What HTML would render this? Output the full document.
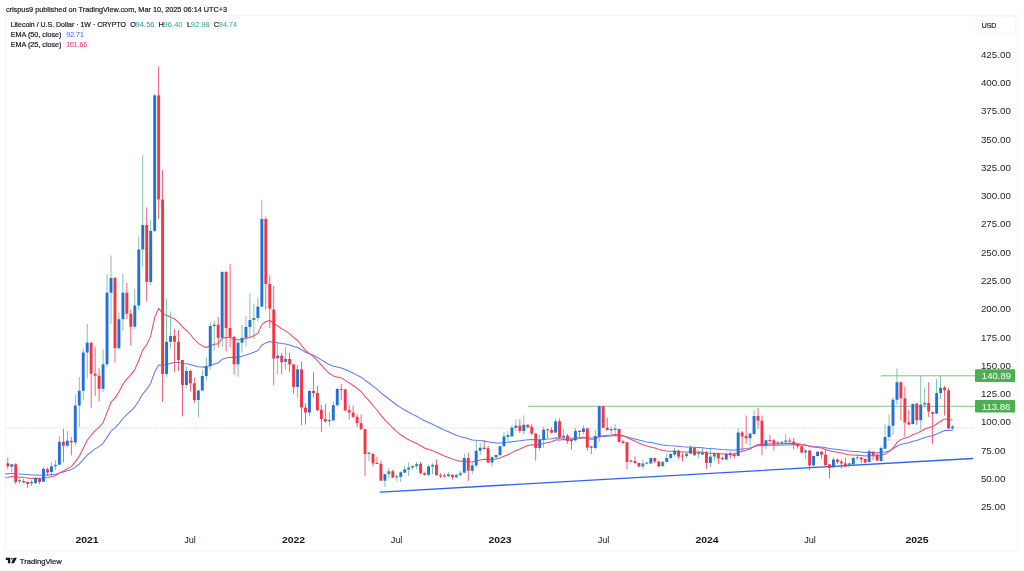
<!DOCTYPE html>
<html lang="en"><head><meta charset="utf-8"><title>Litecoin / U.S. Dollar chart</title>
<style>
html,body{margin:0;padding:0;background:#fff;}
body{width:1024px;height:571px;overflow:hidden;}
svg{display:block;}
text{font-family:"Liberation Sans",sans-serif;}
.k{fill:#131722;stroke:#131722;stroke-width:0.2px;}
tspan[fill]{stroke:none;}
</style></head><body>
<svg width="1024" height="571" viewBox="0 0 1024 571">
<rect x="0" y="0" width="1024" height="571" fill="#ffffff"/>
<g fill="none" stroke="#f4f4f6" stroke-width="1"><path d="M5.2 551.4V15.3H1018"/><path d="M5.2 551.4H1016" stroke="#f7f7f8"/><path d="M1018.2 15.3V551.4" stroke="#fafafb" stroke-width="2"/></g>
<line x1="6" y1="428" x2="974" y2="428" stroke="#c2caf8" stroke-width="0.9" stroke-dasharray="1 0.9" opacity="0.85"/>
<line x1="528.2" y1="406.3" x2="975" y2="406.3" stroke="#6fbf73" stroke-width="0.9"/>
<line x1="880.9" y1="375.8" x2="975" y2="375.8" stroke="#6fbf73" stroke-width="0.9"/>
<polyline points="5.2,474.0 7.8,473.7 11.8,473.3 15.7,473.7 19.7,473.9 23.7,474.3 27.6,474.6 31.6,474.9 35.6,475.0 39.6,475.3 43.5,475.1 47.5,475.0 51.5,474.6 55.4,474.2 59.4,473.0 63.4,471.9 67.3,470.7 71.3,469.6 75.3,467.1 79.2,464.1 83.2,459.7 87.2,455.1 91.2,451.9 95.1,448.9 99.1,446.6 103.1,443.3 107.0,437.4 111.0,431.2 115.0,427.9 118.9,423.7 122.9,418.5 126.9,414.4 130.9,411.0 134.8,406.8 138.8,400.7 142.8,393.8 146.7,389.4 150.7,383.2 154.7,371.9 158.6,365.1 162.6,365.5 166.6,364.5 170.5,363.4 174.5,362.6 178.5,362.5 182.5,363.4 186.4,363.7 190.4,364.4 194.4,365.8 198.3,366.8 202.3,367.1 206.3,367.1 210.2,365.5 214.2,363.9 218.2,362.9 222.1,359.3 226.1,358.1 230.1,357.3 234.1,357.5 238.0,356.9 242.0,356.2 246.0,355.1 249.9,353.7 253.9,352.3 257.9,350.5 261.8,345.3 265.8,342.9 269.8,341.6 273.7,342.2 277.7,342.8 281.7,343.5 285.7,344.1 289.6,344.9 293.6,346.6 297.6,347.5 301.5,349.8 305.5,352.3 309.5,353.8 313.4,355.3 317.4,357.5 321.4,359.9 325.4,362.3 329.3,364.6 333.3,366.2 337.3,367.1 341.2,368.0 345.2,369.6 349.2,371.3 353.1,373.1 357.1,375.1 361.1,377.2 365.0,380.2 369.0,383.0 373.0,386.2 377.0,389.2 380.9,392.8 384.9,396.0 388.9,399.0 392.8,402.0 396.8,405.0 400.8,407.6 404.7,410.0 408.7,412.3 412.7,414.4 416.6,416.3 420.6,418.6 424.6,420.8 428.6,422.5 432.5,424.2 436.5,426.2 440.5,428.2 444.4,430.1 448.4,431.8 452.4,433.6 456.3,435.2 460.3,436.7 464.3,437.5 468.3,438.8 472.2,439.9 476.2,440.3 480.2,440.6 484.1,440.9 488.1,441.8 492.1,442.4 496.0,442.9 500.0,443.0 504.0,442.7 507.9,442.4 511.9,441.8 515.9,441.2 519.9,440.8 523.8,440.2 527.8,439.7 531.8,439.4 535.7,439.8 539.7,439.8 543.7,439.4 547.6,439.0 551.6,438.8 555.6,438.1 559.5,438.1 563.5,438.0 567.5,438.1 571.5,438.2 575.4,437.9 579.4,437.7 583.4,437.3 587.3,437.7 591.3,438.1 595.3,438.0 599.2,436.8 603.2,436.4 607.2,436.2 611.1,435.9 615.1,435.6 619.1,435.9 623.1,436.1 627.0,437.1 631.0,438.1 635.0,439.0 638.9,440.1 642.9,441.0 646.9,441.9 650.8,442.5 654.8,443.3 658.8,444.2 662.8,444.9 666.7,445.4 670.7,445.7 674.7,445.9 678.6,446.3 682.6,446.7 686.6,447.0 690.5,447.0 694.5,447.3 698.5,447.5 702.4,447.7 706.4,448.3 710.4,448.7 714.4,448.8 718.3,449.2 722.3,449.6 726.3,449.8 730.2,450.0 734.2,450.2 738.2,449.5 742.1,449.0 746.1,448.6 750.1,448.0 754.0,446.7 758.0,445.7 762.0,445.7 766.0,445.5 769.9,445.3 773.9,445.3 777.9,445.2 781.8,445.0 785.8,444.9 789.8,444.7 793.7,444.7 797.7,444.8 801.7,445.1 805.6,445.3 809.6,446.1 813.6,446.5 817.6,446.7 821.5,447.0 825.5,447.7 829.5,448.5 833.4,448.9 837.4,449.4 841.4,450.0 845.3,450.6 849.3,451.1 853.3,451.4 857.3,451.6 861.2,451.9 865.2,452.4 869.2,452.3 873.1,452.4 877.1,452.8 881.1,452.6 885.0,452.0 889.0,450.9 893.0,448.9 896.9,446.3 900.9,444.4 904.9,443.6 908.9,442.8 912.8,441.3 916.8,440.5 920.8,439.1 924.7,437.6 928.7,436.6 932.7,435.7 936.6,434.1 940.6,432.2 944.6,430.6 948.5,430.5 952.5,430.3" fill="none" stroke="#5b7cf7" stroke-width="1.05" stroke-linejoin="round"/>
<polyline points="5.2,477.8 7.8,477.5 11.8,476.5 15.7,476.9 19.7,477.1 23.7,477.6 27.6,478.0 31.6,478.4 35.6,478.3 39.6,478.6 43.5,477.9 47.5,477.4 51.5,476.6 55.4,475.7 59.4,473.1 63.4,471.0 67.3,468.6 71.3,466.6 75.3,461.9 79.2,456.4 83.2,448.5 87.2,440.3 91.2,435.2 95.1,430.6 99.1,427.4 103.1,422.5 107.0,412.6 111.0,402.2 115.0,398.1 118.9,392.0 122.9,384.3 126.9,378.9 130.9,374.9 134.8,369.6 138.8,360.3 142.8,349.9 146.7,344.7 150.7,335.9 154.7,317.4 158.6,308.4 162.6,313.4 166.6,315.6 170.5,317.1 174.5,319.0 178.5,322.2 182.5,327.0 186.4,330.4 190.4,334.5 194.4,339.5 198.3,343.4 202.3,345.9 206.3,347.5 210.2,345.8 214.2,344.2 218.2,343.7 222.1,338.2 226.1,337.4 230.1,337.4 234.1,339.4 238.0,339.7 242.0,339.6 246.0,338.6 249.9,337.2 253.9,335.7 257.9,333.4 261.8,324.6 265.8,321.5 269.8,320.5 273.7,323.5 277.7,325.9 281.7,328.7 285.7,331.1 289.6,333.6 293.6,337.7 297.6,340.2 301.5,345.3 305.5,350.5 309.5,353.6 313.4,356.7 317.4,360.8 321.4,365.2 325.4,369.6 329.3,373.5 333.3,375.9 337.3,376.9 341.2,377.9 345.2,380.4 349.2,382.9 353.1,385.5 357.1,388.4 361.1,391.5 365.0,396.3 369.0,400.7 373.0,405.5 377.0,410.0 380.9,415.4 384.9,419.9 388.9,423.9 392.8,428.0 396.8,431.7 400.8,434.8 404.7,437.5 408.7,439.8 412.7,441.8 416.6,443.5 420.6,445.8 424.6,448.0 428.6,449.4 432.5,450.6 436.5,452.5 440.5,454.3 444.4,456.0 448.4,457.4 452.4,459.0 456.3,460.2 460.3,461.2 464.3,460.9 468.3,461.7 472.2,462.0 476.2,461.1 480.2,460.1 484.1,459.2 488.1,459.5 492.1,459.3 496.0,459.0 500.0,458.0 504.0,456.3 507.9,454.7 511.9,452.6 515.9,450.5 519.9,449.0 523.8,447.2 527.8,445.6 531.8,444.7 535.7,445.0 539.7,444.6 543.7,443.4 547.6,442.4 551.6,441.7 555.6,440.1 559.5,439.9 563.5,439.6 567.5,439.7 571.5,439.8 575.4,439.1 579.4,438.5 583.4,437.8 587.3,438.5 591.3,439.2 595.3,439.0 599.2,436.5 603.2,435.8 607.2,435.3 611.1,434.9 615.1,434.4 619.1,435.0 623.1,435.6 627.0,437.6 631.0,439.4 635.0,441.2 638.9,443.1 642.9,444.7 646.9,446.1 650.8,447.0 654.8,448.1 658.8,449.5 662.8,450.5 666.7,451.0 670.7,451.3 674.7,451.2 678.6,451.6 682.6,452.0 686.6,452.1 690.5,451.8 694.5,452.0 698.5,452.1 702.4,452.1 706.4,452.9 710.4,453.2 714.4,453.2 718.3,453.6 722.3,454.0 726.3,454.0 730.2,454.1 734.2,454.3 738.2,452.6 742.1,451.3 746.1,450.3 750.1,449.1 754.0,446.5 758.0,444.5 762.0,444.6 766.0,444.3 769.9,444.0 773.9,444.0 777.9,443.9 781.8,443.7 785.8,443.5 789.8,443.3 793.7,443.5 797.7,443.7 801.7,444.4 805.6,444.8 809.6,446.4 813.6,447.1 817.6,447.5 821.5,448.0 825.5,449.4 829.5,450.8 833.4,451.5 837.4,452.3 841.4,453.1 845.3,454.1 849.3,454.9 853.3,455.1 857.3,455.3 861.2,455.6 865.2,456.1 869.2,455.7 873.1,455.7 877.1,456.1 881.1,455.5 885.0,454.1 889.0,451.9 893.0,447.9 896.9,442.8 900.9,439.4 904.9,438.1 908.9,437.1 912.8,434.5 916.8,433.4 920.8,431.2 924.7,429.0 928.7,427.7 932.7,426.6 936.6,424.0 940.6,421.2 944.6,418.9 948.5,419.6 952.5,420.1" fill="none" stroke="#f0496b" stroke-width="1.05" stroke-linejoin="round"/>
<line x1="380.4" y1="492.1" x2="972.5" y2="458.5" stroke="#2f62f0" stroke-width="1.35" stroke-linecap="round"/>
<g>
<rect x="7.40" y="457.5" width="0.8" height="11.7" fill="#f23f52"/>
<rect x="6.35" y="463.3" width="2.9" height="3.0" fill="#f23645"/>
<rect x="11.41" y="464.3" width="0.72" height="7.7" fill="#55ad97"/>
<rect x="10.32" y="464.3" width="2.9" height="2.4" fill="#1f72d8"/>
<rect x="15.34" y="463.3" width="0.8" height="20.7" fill="#f23f52"/>
<rect x="14.29" y="464.3" width="2.9" height="17.7" fill="#f23645"/>
<rect x="19.35" y="478.0" width="0.72" height="6.0" fill="#55ad97"/>
<rect x="18.26" y="480.0" width="2.9" height="1.4" fill="#2f8fb8"/>
<rect x="23.28" y="479.0" width="0.8" height="4.0" fill="#f23f52"/>
<rect x="22.23" y="481.0" width="2.9" height="1.4" fill="#f23645"/>
<rect x="27.25" y="481.5" width="0.8" height="6.3" fill="#f23f52"/>
<rect x="26.20" y="482.0" width="2.9" height="2.0" fill="#f23645"/>
<rect x="31.26" y="480.0" width="0.72" height="6.0" fill="#55ad97"/>
<rect x="30.17" y="482.0" width="2.9" height="1.5" fill="#2f8fb8"/>
<rect x="35.23" y="477.0" width="0.72" height="7.0" fill="#55ad97"/>
<rect x="34.14" y="478.0" width="2.9" height="5.0" fill="#1f72d8"/>
<rect x="39.16" y="477.5" width="0.8" height="6.5" fill="#f23f52"/>
<rect x="38.11" y="478.6" width="2.9" height="3.4" fill="#f23645"/>
<rect x="43.16" y="467.3" width="0.72" height="14.7" fill="#55ad97"/>
<rect x="42.07" y="468.8" width="2.9" height="12.8" fill="#1f72d8"/>
<rect x="47.09" y="467.8" width="0.8" height="8.2" fill="#f23f52"/>
<rect x="46.04" y="469.2" width="2.9" height="3.3" fill="#f23645"/>
<rect x="51.10" y="462.4" width="0.72" height="14.6" fill="#55ad97"/>
<rect x="50.01" y="466.3" width="2.9" height="5.7" fill="#1f72d8"/>
<rect x="55.07" y="460.4" width="0.72" height="9.6" fill="#55ad97"/>
<rect x="53.98" y="464.7" width="2.9" height="1.6" fill="#2f8fb8"/>
<rect x="59.04" y="435.9" width="0.72" height="28.8" fill="#55ad97"/>
<rect x="57.95" y="441.8" width="2.9" height="22.9" fill="#1f72d8"/>
<rect x="62.97" y="429.0" width="0.8" height="33.4" fill="#f23f52"/>
<rect x="61.92" y="441.8" width="2.9" height="3.9" fill="#f23645"/>
<rect x="66.98" y="431.0" width="0.72" height="15.7" fill="#55ad97"/>
<rect x="65.89" y="440.8" width="2.9" height="4.9" fill="#1f72d8"/>
<rect x="70.91" y="436.9" width="0.8" height="18.6" fill="#f23f52"/>
<rect x="69.86" y="440.8" width="2.9" height="1.6" fill="#f23645"/>
<rect x="74.92" y="394.7" width="0.72" height="51.0" fill="#55ad97"/>
<rect x="73.83" y="405.5" width="2.9" height="36.9" fill="#1f72d8"/>
<rect x="78.89" y="377.0" width="0.72" height="50.0" fill="#55ad97"/>
<rect x="77.80" y="390.8" width="2.9" height="14.7" fill="#1f72d8"/>
<rect x="82.86" y="348.6" width="0.72" height="51.0" fill="#55ad97"/>
<rect x="81.77" y="352.5" width="2.9" height="38.3" fill="#1f72d8"/>
<rect x="86.83" y="324.0" width="0.72" height="54.5" fill="#55ad97"/>
<rect x="85.74" y="342.7" width="2.9" height="9.8" fill="#1f72d8"/>
<rect x="90.76" y="342.0" width="0.8" height="65.5" fill="#f23f52"/>
<rect x="89.71" y="342.7" width="2.9" height="31.0" fill="#f23645"/>
<rect x="94.73" y="346.7" width="0.8" height="49.0" fill="#f23f52"/>
<rect x="93.68" y="373.7" width="2.9" height="2.0" fill="#f23645"/>
<rect x="98.70" y="368.2" width="0.8" height="33.4" fill="#f23f52"/>
<rect x="97.65" y="375.7" width="2.9" height="13.1" fill="#f23645"/>
<rect x="102.71" y="349.6" width="0.72" height="42.2" fill="#55ad97"/>
<rect x="101.62" y="364.3" width="2.9" height="24.5" fill="#1f72d8"/>
<rect x="106.67" y="274.0" width="0.72" height="93.3" fill="#55ad97"/>
<rect x="105.58" y="292.7" width="2.9" height="71.6" fill="#1f72d8"/>
<rect x="110.64" y="255.4" width="0.72" height="68.6" fill="#55ad97"/>
<rect x="109.55" y="278.0" width="2.9" height="14.7" fill="#1f72d8"/>
<rect x="114.57" y="277.0" width="0.8" height="85.4" fill="#f23f52"/>
<rect x="113.52" y="278.0" width="2.9" height="70.2" fill="#f23645"/>
<rect x="118.58" y="312.4" width="0.72" height="37.2" fill="#55ad97"/>
<rect x="117.49" y="319.2" width="2.9" height="29.0" fill="#1f72d8"/>
<rect x="122.55" y="274.0" width="0.72" height="57.0" fill="#55ad97"/>
<rect x="121.46" y="292.7" width="2.9" height="26.5" fill="#1f72d8"/>
<rect x="126.48" y="283.0" width="0.8" height="36.2" fill="#f23f52"/>
<rect x="125.43" y="292.7" width="2.9" height="21.0" fill="#f23645"/>
<rect x="130.45" y="309.4" width="0.8" height="36.3" fill="#f23f52"/>
<rect x="129.40" y="313.7" width="2.9" height="13.0" fill="#f23645"/>
<rect x="134.46" y="288.8" width="0.72" height="40.2" fill="#55ad97"/>
<rect x="133.37" y="305.5" width="2.9" height="21.2" fill="#1f72d8"/>
<rect x="138.43" y="236.8" width="0.72" height="73.6" fill="#55ad97"/>
<rect x="137.34" y="249.5" width="2.9" height="56.0" fill="#1f72d8"/>
<rect x="142.40" y="155.2" width="0.72" height="111.8" fill="#55ad97"/>
<rect x="141.31" y="225.0" width="2.9" height="24.5" fill="#1f72d8"/>
<rect x="146.33" y="207.4" width="0.8" height="94.2" fill="#f23f52"/>
<rect x="145.28" y="225.0" width="2.9" height="56.9" fill="#f23645"/>
<rect x="150.34" y="220.0" width="0.72" height="64.8" fill="#55ad97"/>
<rect x="149.25" y="230.9" width="2.9" height="51.0" fill="#1f72d8"/>
<rect x="154.31" y="94.0" width="0.72" height="138.0" fill="#55ad97"/>
<rect x="153.22" y="95.4" width="2.9" height="135.5" fill="#1f72d8"/>
<rect x="158.24" y="66.5" width="0.8" height="152.5" fill="#f23f52"/>
<rect x="157.19" y="95.4" width="2.9" height="104.1" fill="#f23645"/>
<rect x="162.21" y="170.0" width="0.8" height="232.0" fill="#f23f52"/>
<rect x="161.16" y="199.5" width="2.9" height="174.4" fill="#f23645"/>
<rect x="166.22" y="298.6" width="0.72" height="78.4" fill="#55ad97"/>
<rect x="165.13" y="341.8" width="2.9" height="32.1" fill="#1f72d8"/>
<rect x="170.19" y="311.4" width="0.72" height="37.2" fill="#55ad97"/>
<rect x="169.10" y="335.9" width="2.9" height="5.9" fill="#1f72d8"/>
<rect x="174.11" y="329.0" width="0.8" height="43.0" fill="#f23f52"/>
<rect x="173.06" y="335.9" width="2.9" height="5.9" fill="#f23645"/>
<rect x="178.08" y="330.0" width="0.8" height="41.0" fill="#f23f52"/>
<rect x="177.03" y="341.8" width="2.9" height="18.2" fill="#f23645"/>
<rect x="182.05" y="360.0" width="0.8" height="56.4" fill="#f23f52"/>
<rect x="181.00" y="360.0" width="2.9" height="25.0" fill="#f23645"/>
<rect x="186.06" y="366.5" width="0.72" height="21.0" fill="#55ad97"/>
<rect x="184.97" y="371.0" width="2.9" height="14.0" fill="#1f72d8"/>
<rect x="189.99" y="370.0" width="0.8" height="21.5" fill="#f23f52"/>
<rect x="188.94" y="371.0" width="2.9" height="12.3" fill="#f23645"/>
<rect x="193.96" y="377.5" width="0.8" height="25.7" fill="#f23f52"/>
<rect x="192.91" y="383.3" width="2.9" height="16.7" fill="#f23645"/>
<rect x="197.97" y="390.0" width="0.72" height="27.2" fill="#55ad97"/>
<rect x="196.88" y="390.5" width="2.9" height="9.5" fill="#1f72d8"/>
<rect x="201.94" y="370.0" width="0.72" height="21.0" fill="#55ad97"/>
<rect x="200.85" y="376.0" width="2.9" height="14.5" fill="#1f72d8"/>
<rect x="205.91" y="357.5" width="0.72" height="23.1" fill="#55ad97"/>
<rect x="204.82" y="366.1" width="2.9" height="9.9" fill="#1f72d8"/>
<rect x="209.88" y="322.0" width="0.72" height="48.2" fill="#55ad97"/>
<rect x="208.79" y="326.0" width="2.9" height="40.1" fill="#1f72d8"/>
<rect x="213.85" y="321.0" width="0.72" height="29.6" fill="#55ad97"/>
<rect x="212.76" y="324.7" width="2.9" height="1.3" fill="#1f72d8"/>
<rect x="217.78" y="317.0" width="0.8" height="30.6" fill="#f23f52"/>
<rect x="216.73" y="324.7" width="2.9" height="13.1" fill="#f23645"/>
<rect x="221.79" y="271.0" width="0.72" height="75.7" fill="#55ad97"/>
<rect x="220.70" y="272.0" width="2.9" height="65.8" fill="#1f72d8"/>
<rect x="225.72" y="271.0" width="0.8" height="80.6" fill="#f23f52"/>
<rect x="224.67" y="272.0" width="2.9" height="56.0" fill="#f23645"/>
<rect x="229.69" y="264.0" width="0.8" height="83.6" fill="#f23f52"/>
<rect x="228.64" y="328.0" width="2.9" height="8.9" fill="#f23645"/>
<rect x="233.66" y="336.0" width="0.8" height="38.7" fill="#f23f52"/>
<rect x="232.61" y="336.9" width="2.9" height="27.4" fill="#f23645"/>
<rect x="237.67" y="339.8" width="0.72" height="36.9" fill="#55ad97"/>
<rect x="236.58" y="342.7" width="2.9" height="21.6" fill="#1f72d8"/>
<rect x="241.63" y="325.0" width="0.72" height="27.5" fill="#55ad97"/>
<rect x="240.54" y="337.8" width="2.9" height="4.9" fill="#1f72d8"/>
<rect x="245.60" y="316.0" width="0.72" height="30.7" fill="#55ad97"/>
<rect x="244.51" y="327.0" width="2.9" height="10.8" fill="#1f72d8"/>
<rect x="249.57" y="292.7" width="0.72" height="46.1" fill="#55ad97"/>
<rect x="248.48" y="320.0" width="2.9" height="7.0" fill="#1f72d8"/>
<rect x="253.54" y="303.5" width="0.72" height="35.5" fill="#55ad97"/>
<rect x="252.45" y="318.0" width="2.9" height="2.0" fill="#2f8fb8"/>
<rect x="257.51" y="297.7" width="0.72" height="23.7" fill="#55ad97"/>
<rect x="256.42" y="306.6" width="2.9" height="11.4" fill="#1f72d8"/>
<rect x="261.48" y="199.8" width="0.72" height="107.2" fill="#55ad97"/>
<rect x="260.39" y="219.0" width="2.9" height="87.6" fill="#1f72d8"/>
<rect x="265.41" y="216.5" width="0.8" height="93.1" fill="#f23f52"/>
<rect x="264.36" y="219.0" width="2.9" height="65.0" fill="#f23645"/>
<rect x="269.38" y="275.3" width="0.8" height="52.9" fill="#f23f52"/>
<rect x="268.33" y="284.0" width="2.9" height="24.6" fill="#f23645"/>
<rect x="273.35" y="286.0" width="0.8" height="99.3" fill="#f23f52"/>
<rect x="272.30" y="309.6" width="2.9" height="49.0" fill="#f23645"/>
<rect x="277.36" y="343.0" width="0.72" height="31.5" fill="#55ad97"/>
<rect x="276.27" y="355.7" width="2.9" height="2.5" fill="#1f72d8"/>
<rect x="281.29" y="352.7" width="0.8" height="21.8" fill="#f23f52"/>
<rect x="280.24" y="355.7" width="2.9" height="6.5" fill="#f23645"/>
<rect x="285.30" y="346.9" width="0.72" height="23.1" fill="#55ad97"/>
<rect x="284.21" y="359.0" width="2.9" height="2.8" fill="#1f72d8"/>
<rect x="289.23" y="352.7" width="0.8" height="19.3" fill="#f23f52"/>
<rect x="288.18" y="359.0" width="2.9" height="5.4" fill="#f23645"/>
<rect x="293.20" y="364.0" width="0.8" height="29.8" fill="#f23f52"/>
<rect x="292.15" y="364.4" width="2.9" height="22.6" fill="#f23645"/>
<rect x="297.21" y="364.8" width="0.72" height="33.7" fill="#55ad97"/>
<rect x="296.12" y="369.4" width="2.9" height="17.6" fill="#1f72d8"/>
<rect x="301.14" y="361.6" width="0.8" height="63.8" fill="#f23f52"/>
<rect x="300.09" y="369.4" width="2.9" height="38.1" fill="#f23645"/>
<rect x="305.11" y="403.5" width="0.8" height="21.0" fill="#f23f52"/>
<rect x="304.06" y="407.7" width="2.9" height="4.8" fill="#f23645"/>
<rect x="309.11" y="390.0" width="0.72" height="26.6" fill="#55ad97"/>
<rect x="308.02" y="391.0" width="2.9" height="21.5" fill="#1f72d8"/>
<rect x="313.04" y="372.3" width="0.8" height="25.2" fill="#f23f52"/>
<rect x="311.99" y="391.0" width="2.9" height="2.0" fill="#f23645"/>
<rect x="317.01" y="385.8" width="0.8" height="25.4" fill="#f23f52"/>
<rect x="315.96" y="393.0" width="2.9" height="17.2" fill="#f23645"/>
<rect x="320.98" y="405.0" width="0.8" height="26.6" fill="#f23f52"/>
<rect x="319.93" y="409.8" width="2.9" height="9.2" fill="#f23645"/>
<rect x="324.95" y="403.8" width="0.8" height="19.0" fill="#f23f52"/>
<rect x="323.90" y="419.0" width="2.9" height="2.5" fill="#f23645"/>
<rect x="328.96" y="412.2" width="0.72" height="14.0" fill="#55ad97"/>
<rect x="327.87" y="420.0" width="2.9" height="1.2" fill="#2f8fb8"/>
<rect x="332.93" y="401.6" width="0.72" height="19.7" fill="#55ad97"/>
<rect x="331.84" y="405.2" width="2.9" height="15.1" fill="#1f72d8"/>
<rect x="336.90" y="388.0" width="0.72" height="18.6" fill="#55ad97"/>
<rect x="335.81" y="389.0" width="2.9" height="16.2" fill="#1f72d8"/>
<rect x="340.83" y="383.8" width="0.8" height="16.2" fill="#f23f52"/>
<rect x="339.78" y="389.0" width="2.9" height="1.0" fill="#f23645"/>
<rect x="344.80" y="389.0" width="0.8" height="22.5" fill="#f23f52"/>
<rect x="343.75" y="389.4" width="2.9" height="21.1" fill="#f23645"/>
<rect x="348.77" y="404.6" width="0.8" height="14.7" fill="#f23f52"/>
<rect x="347.72" y="410.0" width="2.9" height="2.6" fill="#f23645"/>
<rect x="352.74" y="405.6" width="0.8" height="12.7" fill="#f23f52"/>
<rect x="351.69" y="412.5" width="2.9" height="4.3" fill="#f23645"/>
<rect x="356.71" y="414.4" width="0.8" height="12.8" fill="#f23f52"/>
<rect x="355.66" y="416.8" width="2.9" height="6.4" fill="#f23645"/>
<rect x="360.68" y="414.4" width="0.8" height="15.6" fill="#f23f52"/>
<rect x="359.63" y="423.2" width="2.9" height="5.9" fill="#f23645"/>
<rect x="364.65" y="429.0" width="0.8" height="47.2" fill="#f23f52"/>
<rect x="363.60" y="429.1" width="2.9" height="24.9" fill="#f23645"/>
<rect x="368.66" y="451.7" width="0.72" height="9.8" fill="#55ad97"/>
<rect x="367.57" y="452.6" width="2.9" height="1.4" fill="#2f8fb8"/>
<rect x="372.58" y="452.6" width="0.8" height="13.8" fill="#f23f52"/>
<rect x="371.53" y="454.0" width="2.9" height="9.4" fill="#f23645"/>
<rect x="376.55" y="456.6" width="0.8" height="7.4" fill="#f23f52"/>
<rect x="375.50" y="463.0" width="2.9" height="1.0" fill="#f23645"/>
<rect x="380.52" y="460.5" width="0.8" height="20.5" fill="#f23f52"/>
<rect x="379.47" y="463.8" width="2.9" height="16.9" fill="#f23645"/>
<rect x="384.53" y="474.0" width="0.72" height="13.0" fill="#55ad97"/>
<rect x="383.44" y="474.2" width="2.9" height="6.5" fill="#1f72d8"/>
<rect x="388.50" y="468.3" width="0.72" height="9.7" fill="#55ad97"/>
<rect x="387.41" y="471.3" width="2.9" height="2.9" fill="#2f8fb8"/>
<rect x="392.43" y="469.3" width="0.8" height="8.7" fill="#f23f52"/>
<rect x="391.38" y="471.3" width="2.9" height="6.2" fill="#f23645"/>
<rect x="396.44" y="474.2" width="0.72" height="6.8" fill="#55ad97"/>
<rect x="395.35" y="476.2" width="2.9" height="1.3" fill="#2f8fb8"/>
<rect x="400.41" y="471.3" width="0.72" height="10.7" fill="#55ad97"/>
<rect x="399.32" y="472.3" width="2.9" height="4.5" fill="#1f72d8"/>
<rect x="404.38" y="465.8" width="0.72" height="7.4" fill="#55ad97"/>
<rect x="403.29" y="469.3" width="2.9" height="3.3" fill="#1f72d8"/>
<rect x="408.35" y="462.5" width="0.72" height="13.7" fill="#55ad97"/>
<rect x="407.26" y="467.4" width="2.9" height="2.3" fill="#2f8fb8"/>
<rect x="412.32" y="465.0" width="0.72" height="4.7" fill="#55ad97"/>
<rect x="411.23" y="466.0" width="2.9" height="1.7" fill="#2f8fb8"/>
<rect x="416.29" y="461.9" width="0.72" height="7.4" fill="#55ad97"/>
<rect x="415.20" y="464.0" width="2.9" height="2.2" fill="#2f8fb8"/>
<rect x="420.22" y="461.9" width="0.8" height="12.3" fill="#f23f52"/>
<rect x="419.17" y="464.0" width="2.9" height="9.2" fill="#f23645"/>
<rect x="424.19" y="472.3" width="0.8" height="3.3" fill="#f23f52"/>
<rect x="423.14" y="473.2" width="2.9" height="1.6" fill="#f23645"/>
<rect x="428.20" y="464.4" width="0.72" height="11.8" fill="#55ad97"/>
<rect x="427.11" y="466.4" width="2.9" height="8.4" fill="#1f72d8"/>
<rect x="432.17" y="462.8" width="0.72" height="11.4" fill="#55ad97"/>
<rect x="431.08" y="464.8" width="2.9" height="1.8" fill="#2f8fb8"/>
<rect x="436.10" y="459.5" width="0.8" height="16.1" fill="#f23f52"/>
<rect x="435.05" y="464.8" width="2.9" height="10.4" fill="#f23645"/>
<rect x="440.06" y="473.2" width="0.8" height="4.8" fill="#f23f52"/>
<rect x="439.01" y="475.3" width="2.9" height="1.0" fill="#f23645"/>
<rect x="444.03" y="473.5" width="0.8" height="4.0" fill="#f23f52"/>
<rect x="442.98" y="475.6" width="2.9" height="1.0" fill="#f23645"/>
<rect x="448.04" y="472.3" width="0.72" height="4.9" fill="#55ad97"/>
<rect x="446.95" y="474.2" width="2.9" height="2.0" fill="#2f8fb8"/>
<rect x="451.97" y="474.2" width="0.8" height="5.3" fill="#f23f52"/>
<rect x="450.92" y="474.8" width="2.9" height="2.4" fill="#f23645"/>
<rect x="455.98" y="474.2" width="0.72" height="3.9" fill="#55ad97"/>
<rect x="454.89" y="474.8" width="2.9" height="2.4" fill="#2f8fb8"/>
<rect x="459.95" y="470.9" width="0.72" height="4.7" fill="#55ad97"/>
<rect x="458.86" y="473.2" width="2.9" height="2.0" fill="#2f8fb8"/>
<rect x="463.92" y="453.6" width="0.72" height="19.6" fill="#55ad97"/>
<rect x="462.83" y="458.0" width="2.9" height="14.6" fill="#1f72d8"/>
<rect x="467.85" y="452.6" width="0.8" height="28.4" fill="#f23f52"/>
<rect x="466.80" y="458.0" width="2.9" height="12.7" fill="#f23645"/>
<rect x="471.86" y="462.5" width="0.72" height="11.7" fill="#55ad97"/>
<rect x="470.77" y="465.4" width="2.9" height="5.3" fill="#1f72d8"/>
<rect x="475.83" y="440.9" width="0.72" height="26.5" fill="#55ad97"/>
<rect x="474.74" y="450.7" width="2.9" height="14.7" fill="#1f72d8"/>
<rect x="479.80" y="442.8" width="0.72" height="12.4" fill="#55ad97"/>
<rect x="478.71" y="447.7" width="2.9" height="3.0" fill="#1f72d8"/>
<rect x="483.73" y="440.0" width="0.8" height="9.7" fill="#f23f52"/>
<rect x="482.68" y="447.7" width="2.9" height="1.3" fill="#f23645"/>
<rect x="487.70" y="445.8" width="0.8" height="17.2" fill="#f23f52"/>
<rect x="486.65" y="448.2" width="2.9" height="14.3" fill="#f23645"/>
<rect x="491.71" y="456.6" width="0.72" height="9.8" fill="#55ad97"/>
<rect x="490.62" y="457.2" width="2.9" height="5.3" fill="#1f72d8"/>
<rect x="495.68" y="454.6" width="0.72" height="4.9" fill="#55ad97"/>
<rect x="494.59" y="455.0" width="2.9" height="2.2" fill="#1f72d8"/>
<rect x="499.65" y="445.8" width="0.72" height="9.8" fill="#55ad97"/>
<rect x="498.56" y="446.2" width="2.9" height="9.0" fill="#1f72d8"/>
<rect x="503.61" y="432.0" width="0.72" height="14.8" fill="#55ad97"/>
<rect x="502.52" y="436.4" width="2.9" height="9.8" fill="#1f72d8"/>
<rect x="507.58" y="431.0" width="0.72" height="10.9" fill="#55ad97"/>
<rect x="506.49" y="435.0" width="2.9" height="2.0" fill="#2f8fb8"/>
<rect x="511.55" y="425.2" width="0.72" height="11.8" fill="#55ad97"/>
<rect x="510.46" y="427.7" width="2.9" height="8.7" fill="#1f72d8"/>
<rect x="515.52" y="419.3" width="0.72" height="11.7" fill="#55ad97"/>
<rect x="514.43" y="425.6" width="2.9" height="2.1" fill="#1f72d8"/>
<rect x="519.45" y="419.3" width="0.8" height="13.7" fill="#f23f52"/>
<rect x="518.40" y="425.6" width="2.9" height="5.4" fill="#f23645"/>
<rect x="523.46" y="415.4" width="0.72" height="19.0" fill="#55ad97"/>
<rect x="522.37" y="424.8" width="2.9" height="6.2" fill="#1f72d8"/>
<rect x="527.39" y="424.2" width="0.8" height="3.9" fill="#f23f52"/>
<rect x="526.34" y="424.8" width="2.9" height="2.4" fill="#f23645"/>
<rect x="531.36" y="424.2" width="0.8" height="10.8" fill="#f23f52"/>
<rect x="530.31" y="426.8" width="2.9" height="6.8" fill="#f23645"/>
<rect x="535.33" y="433.0" width="0.8" height="27.5" fill="#f23f52"/>
<rect x="534.28" y="433.6" width="2.9" height="14.4" fill="#f23645"/>
<rect x="539.34" y="435.0" width="0.72" height="15.7" fill="#55ad97"/>
<rect x="538.25" y="440.0" width="2.9" height="8.0" fill="#1f72d8"/>
<rect x="543.31" y="426.6" width="0.72" height="21.1" fill="#55ad97"/>
<rect x="542.22" y="429.7" width="2.9" height="10.3" fill="#1f72d8"/>
<rect x="547.24" y="428.5" width="0.8" height="9.5" fill="#f23f52"/>
<rect x="546.19" y="429.3" width="2.9" height="1.0" fill="#f23645"/>
<rect x="551.21" y="427.2" width="0.8" height="6.4" fill="#f23f52"/>
<rect x="550.16" y="430.0" width="2.9" height="2.6" fill="#f23645"/>
<rect x="555.22" y="419.3" width="0.72" height="13.7" fill="#55ad97"/>
<rect x="554.13" y="421.3" width="2.9" height="11.3" fill="#1f72d8"/>
<rect x="559.15" y="418.3" width="0.8" height="20.7" fill="#f23f52"/>
<rect x="558.10" y="421.3" width="2.9" height="16.2" fill="#f23645"/>
<rect x="563.16" y="429.0" width="0.72" height="10.0" fill="#55ad97"/>
<rect x="562.07" y="435.6" width="2.9" height="1.9" fill="#2f8fb8"/>
<rect x="567.09" y="434.0" width="0.8" height="9.8" fill="#f23f52"/>
<rect x="566.04" y="435.6" width="2.9" height="5.3" fill="#f23645"/>
<rect x="571.05" y="438.9" width="0.8" height="10.8" fill="#f23f52"/>
<rect x="570.00" y="440.0" width="2.9" height="1.0" fill="#f23645"/>
<rect x="575.06" y="428.0" width="0.72" height="13.5" fill="#55ad97"/>
<rect x="573.97" y="431.0" width="2.9" height="9.3" fill="#1f72d8"/>
<rect x="578.99" y="430.0" width="0.8" height="8.3" fill="#f23f52"/>
<rect x="577.94" y="430.7" width="2.9" height="1.3" fill="#f23645"/>
<rect x="583.00" y="425.2" width="0.72" height="8.8" fill="#55ad97"/>
<rect x="581.91" y="428.5" width="2.9" height="3.5" fill="#1f72d8"/>
<rect x="586.93" y="427.7" width="0.8" height="23.0" fill="#f23f52"/>
<rect x="585.88" y="428.5" width="2.9" height="19.2" fill="#f23645"/>
<rect x="590.90" y="445.8" width="0.8" height="8.2" fill="#f23f52"/>
<rect x="589.85" y="446.4" width="2.9" height="1.3" fill="#f23645"/>
<rect x="594.91" y="429.7" width="0.72" height="19.6" fill="#55ad97"/>
<rect x="593.82" y="436.0" width="2.9" height="12.0" fill="#1f72d8"/>
<rect x="598.88" y="406.2" width="0.72" height="35.7" fill="#55ad97"/>
<rect x="597.79" y="406.2" width="2.9" height="30.2" fill="#1f72d8"/>
<rect x="602.81" y="406.0" width="0.8" height="22.0" fill="#f23f52"/>
<rect x="601.76" y="406.2" width="2.9" height="21.5" fill="#f23645"/>
<rect x="606.78" y="417.4" width="0.8" height="13.1" fill="#f23f52"/>
<rect x="605.73" y="427.7" width="2.9" height="2.3" fill="#f23645"/>
<rect x="610.79" y="426.2" width="0.72" height="7.8" fill="#55ad97"/>
<rect x="609.70" y="429.0" width="2.9" height="1.5" fill="#2f8fb8"/>
<rect x="614.76" y="424.2" width="0.72" height="9.8" fill="#55ad97"/>
<rect x="613.67" y="428.5" width="2.9" height="1.5" fill="#2f8fb8"/>
<rect x="618.69" y="428.5" width="0.8" height="14.3" fill="#f23f52"/>
<rect x="617.64" y="429.0" width="2.9" height="12.9" fill="#f23645"/>
<rect x="622.66" y="439.9" width="0.8" height="4.3" fill="#f23f52"/>
<rect x="621.61" y="441.5" width="2.9" height="1.5" fill="#f23645"/>
<rect x="626.63" y="441.9" width="0.8" height="27.4" fill="#f23f52"/>
<rect x="625.58" y="442.3" width="2.9" height="19.6" fill="#f23645"/>
<rect x="630.64" y="459.0" width="0.72" height="4.4" fill="#55ad97"/>
<rect x="629.55" y="460.5" width="2.9" height="1.4" fill="#2f8fb8"/>
<rect x="634.57" y="456.3" width="0.8" height="7.5" fill="#f23f52"/>
<rect x="633.52" y="461.0" width="2.9" height="2.2" fill="#f23645"/>
<rect x="638.53" y="462.5" width="0.8" height="4.9" fill="#f23f52"/>
<rect x="637.48" y="463.0" width="2.9" height="3.4" fill="#f23645"/>
<rect x="642.54" y="459.5" width="0.72" height="10.2" fill="#55ad97"/>
<rect x="641.45" y="463.4" width="2.9" height="3.0" fill="#2f8fb8"/>
<rect x="646.51" y="461.5" width="0.72" height="2.9" fill="#55ad97"/>
<rect x="645.42" y="462.6" width="2.9" height="1.2" fill="#2f8fb8"/>
<rect x="650.48" y="457.5" width="0.72" height="6.3" fill="#55ad97"/>
<rect x="649.39" y="458.0" width="2.9" height="5.4" fill="#1f72d8"/>
<rect x="654.41" y="457.5" width="0.8" height="5.9" fill="#f23f52"/>
<rect x="653.36" y="458.0" width="2.9" height="3.5" fill="#f23645"/>
<rect x="658.38" y="461.0" width="0.8" height="6.0" fill="#f23f52"/>
<rect x="657.33" y="461.5" width="2.9" height="4.9" fill="#f23645"/>
<rect x="662.39" y="461.0" width="0.72" height="6.0" fill="#55ad97"/>
<rect x="661.30" y="461.9" width="2.9" height="4.1" fill="#2f8fb8"/>
<rect x="666.36" y="453.6" width="0.72" height="8.9" fill="#55ad97"/>
<rect x="665.27" y="458.0" width="2.9" height="3.9" fill="#1f72d8"/>
<rect x="670.33" y="453.2" width="0.72" height="6.3" fill="#55ad97"/>
<rect x="669.24" y="454.0" width="2.9" height="4.0" fill="#1f72d8"/>
<rect x="674.30" y="448.0" width="0.72" height="8.6" fill="#55ad97"/>
<rect x="673.21" y="450.7" width="2.9" height="3.9" fill="#1f72d8"/>
<rect x="678.23" y="449.7" width="0.8" height="9.3" fill="#f23f52"/>
<rect x="677.18" y="450.7" width="2.9" height="5.9" fill="#f23645"/>
<rect x="682.20" y="452.6" width="0.8" height="8.9" fill="#f23f52"/>
<rect x="681.15" y="455.6" width="2.9" height="1.0" fill="#f23645"/>
<rect x="686.21" y="452.6" width="0.72" height="5.9" fill="#55ad97"/>
<rect x="685.12" y="453.6" width="2.9" height="2.4" fill="#2f8fb8"/>
<rect x="690.18" y="445.4" width="0.72" height="8.6" fill="#55ad97"/>
<rect x="689.09" y="447.4" width="2.9" height="6.2" fill="#1f72d8"/>
<rect x="694.11" y="447.3" width="0.8" height="8.3" fill="#f23f52"/>
<rect x="693.06" y="447.7" width="2.9" height="7.5" fill="#f23645"/>
<rect x="698.12" y="450.7" width="0.72" height="7.3" fill="#55ad97"/>
<rect x="697.03" y="452.6" width="2.9" height="1.4" fill="#2f8fb8"/>
<rect x="702.08" y="447.7" width="0.72" height="7.5" fill="#55ad97"/>
<rect x="700.99" y="452.3" width="2.9" height="2.3" fill="#2f8fb8"/>
<rect x="706.01" y="450.7" width="0.8" height="18.3" fill="#f23f52"/>
<rect x="704.96" y="452.6" width="2.9" height="10.4" fill="#f23645"/>
<rect x="710.02" y="447.7" width="0.72" height="19.3" fill="#55ad97"/>
<rect x="708.93" y="456.6" width="2.9" height="6.4" fill="#1f72d8"/>
<rect x="713.99" y="452.6" width="0.72" height="7.9" fill="#55ad97"/>
<rect x="712.90" y="453.2" width="2.9" height="3.4" fill="#2f8fb8"/>
<rect x="717.92" y="452.6" width="0.8" height="11.2" fill="#f23f52"/>
<rect x="716.87" y="453.6" width="2.9" height="4.9" fill="#f23645"/>
<rect x="721.89" y="456.6" width="0.8" height="3.9" fill="#f23f52"/>
<rect x="720.84" y="458.0" width="2.9" height="1.0" fill="#f23645"/>
<rect x="725.90" y="452.6" width="0.72" height="7.9" fill="#55ad97"/>
<rect x="724.81" y="454.0" width="2.9" height="5.5" fill="#1f72d8"/>
<rect x="729.83" y="451.7" width="0.8" height="6.8" fill="#f23f52"/>
<rect x="728.78" y="453.6" width="2.9" height="1.6" fill="#f23645"/>
<rect x="733.80" y="452.6" width="0.8" height="5.9" fill="#f23f52"/>
<rect x="732.75" y="454.6" width="2.9" height="1.4" fill="#f23645"/>
<rect x="737.81" y="428.0" width="0.72" height="28.6" fill="#55ad97"/>
<rect x="736.72" y="432.5" width="2.9" height="23.5" fill="#1f72d8"/>
<rect x="741.74" y="431.0" width="0.8" height="19.7" fill="#f23f52"/>
<rect x="740.69" y="432.5" width="2.9" height="3.9" fill="#f23645"/>
<rect x="745.71" y="415.4" width="0.8" height="28.4" fill="#f23f52"/>
<rect x="744.66" y="436.0" width="2.9" height="2.3" fill="#f23645"/>
<rect x="749.72" y="433.0" width="0.72" height="13.2" fill="#55ad97"/>
<rect x="748.63" y="433.6" width="2.9" height="4.7" fill="#1f72d8"/>
<rect x="753.69" y="410.0" width="0.72" height="25.0" fill="#55ad97"/>
<rect x="752.60" y="416.0" width="2.9" height="18.0" fill="#1f72d8"/>
<rect x="757.62" y="408.0" width="0.8" height="21.0" fill="#f23f52"/>
<rect x="756.57" y="416.0" width="2.9" height="4.7" fill="#f23645"/>
<rect x="761.59" y="415.4" width="0.8" height="39.8" fill="#f23f52"/>
<rect x="760.54" y="420.7" width="2.9" height="24.7" fill="#f23645"/>
<rect x="765.60" y="439.5" width="0.72" height="9.2" fill="#55ad97"/>
<rect x="764.51" y="440.3" width="2.9" height="5.1" fill="#1f72d8"/>
<rect x="769.52" y="435.0" width="0.8" height="8.8" fill="#f23f52"/>
<rect x="768.47" y="440.0" width="2.9" height="1.0" fill="#f23645"/>
<rect x="773.49" y="438.9" width="0.8" height="11.8" fill="#f23f52"/>
<rect x="772.44" y="440.3" width="2.9" height="3.9" fill="#f23645"/>
<rect x="777.50" y="440.9" width="0.72" height="3.9" fill="#55ad97"/>
<rect x="776.41" y="442.3" width="2.9" height="1.5" fill="#2f8fb8"/>
<rect x="781.47" y="440.9" width="0.72" height="3.9" fill="#55ad97"/>
<rect x="780.38" y="441.9" width="2.9" height="1.5" fill="#2f8fb8"/>
<rect x="785.44" y="434.0" width="0.72" height="8.8" fill="#55ad97"/>
<rect x="784.35" y="440.5" width="2.9" height="1.8" fill="#2f8fb8"/>
<rect x="789.37" y="437.5" width="0.8" height="6.3" fill="#f23f52"/>
<rect x="788.32" y="440.5" width="2.9" height="1.0" fill="#f23645"/>
<rect x="793.34" y="438.0" width="0.8" height="11.7" fill="#f23f52"/>
<rect x="792.29" y="441.5" width="2.9" height="3.3" fill="#f23645"/>
<rect x="797.31" y="443.4" width="0.8" height="5.3" fill="#f23f52"/>
<rect x="796.26" y="443.8" width="2.9" height="2.4" fill="#f23645"/>
<rect x="801.28" y="445.8" width="0.8" height="7.8" fill="#f23f52"/>
<rect x="800.23" y="446.2" width="2.9" height="6.4" fill="#f23645"/>
<rect x="805.29" y="448.7" width="0.72" height="9.8" fill="#55ad97"/>
<rect x="804.20" y="450.5" width="2.9" height="2.1" fill="#2f8fb8"/>
<rect x="809.22" y="449.7" width="0.8" height="20.6" fill="#f23f52"/>
<rect x="808.17" y="450.5" width="2.9" height="14.9" fill="#f23645"/>
<rect x="813.23" y="455.6" width="0.72" height="11.8" fill="#55ad97"/>
<rect x="812.14" y="456.0" width="2.9" height="9.4" fill="#1f72d8"/>
<rect x="817.20" y="451.3" width="0.72" height="5.3" fill="#55ad97"/>
<rect x="816.11" y="451.7" width="2.9" height="4.3" fill="#1f72d8"/>
<rect x="821.13" y="451.3" width="0.8" height="7.5" fill="#f23f52"/>
<rect x="820.08" y="451.7" width="2.9" height="2.9" fill="#f23645"/>
<rect x="825.10" y="449.3" width="0.8" height="16.3" fill="#f23f52"/>
<rect x="824.05" y="454.6" width="2.9" height="10.6" fill="#f23645"/>
<rect x="829.07" y="464.0" width="0.8" height="14.4" fill="#f23f52"/>
<rect x="828.02" y="464.4" width="2.9" height="3.6" fill="#f23645"/>
<rect x="833.08" y="457.5" width="0.72" height="10.3" fill="#55ad97"/>
<rect x="831.99" y="459.5" width="2.9" height="7.9" fill="#1f72d8"/>
<rect x="837.00" y="458.5" width="0.8" height="5.3" fill="#f23f52"/>
<rect x="835.95" y="459.5" width="2.9" height="2.4" fill="#f23645"/>
<rect x="840.97" y="459.5" width="0.8" height="8.8" fill="#f23f52"/>
<rect x="839.92" y="461.5" width="2.9" height="1.9" fill="#f23645"/>
<rect x="844.94" y="457.5" width="0.8" height="9.9" fill="#f23f52"/>
<rect x="843.89" y="463.4" width="2.9" height="3.0" fill="#f23645"/>
<rect x="848.95" y="462.5" width="0.72" height="4.5" fill="#55ad97"/>
<rect x="847.86" y="463.4" width="2.9" height="2.4" fill="#2f8fb8"/>
<rect x="852.92" y="457.2" width="0.72" height="8.2" fill="#55ad97"/>
<rect x="851.83" y="458.0" width="2.9" height="6.4" fill="#1f72d8"/>
<rect x="856.89" y="453.6" width="0.72" height="6.9" fill="#55ad97"/>
<rect x="855.80" y="457.2" width="2.9" height="1.0" fill="#2f8fb8"/>
<rect x="860.82" y="457.2" width="0.8" height="6.2" fill="#f23f52"/>
<rect x="859.77" y="457.5" width="2.9" height="2.0" fill="#f23645"/>
<rect x="864.79" y="458.5" width="0.8" height="4.9" fill="#f23f52"/>
<rect x="863.74" y="459.0" width="2.9" height="3.5" fill="#f23645"/>
<rect x="868.80" y="448.7" width="0.72" height="13.8" fill="#55ad97"/>
<rect x="867.71" y="451.3" width="2.9" height="10.7" fill="#1f72d8"/>
<rect x="872.73" y="451.3" width="0.8" height="9.2" fill="#f23f52"/>
<rect x="871.68" y="451.7" width="2.9" height="3.9" fill="#f23645"/>
<rect x="876.70" y="452.6" width="0.8" height="8.4" fill="#f23f52"/>
<rect x="875.65" y="454.6" width="2.9" height="5.9" fill="#f23645"/>
<rect x="880.71" y="446.2" width="0.72" height="15.7" fill="#55ad97"/>
<rect x="879.62" y="448.0" width="2.9" height="13.0" fill="#1f72d8"/>
<rect x="884.68" y="424.2" width="0.72" height="25.1" fill="#55ad97"/>
<rect x="883.59" y="437.0" width="2.9" height="11.7" fill="#1f72d8"/>
<rect x="888.65" y="414.4" width="0.72" height="26.5" fill="#55ad97"/>
<rect x="887.56" y="425.8" width="2.9" height="11.2" fill="#1f72d8"/>
<rect x="892.62" y="397.0" width="0.72" height="38.0" fill="#55ad97"/>
<rect x="891.53" y="399.7" width="2.9" height="26.1" fill="#1f72d8"/>
<rect x="896.59" y="368.4" width="0.72" height="36.3" fill="#55ad97"/>
<rect x="895.50" y="382.2" width="2.9" height="17.6" fill="#1f72d8"/>
<rect x="900.51" y="381.5" width="0.8" height="39.1" fill="#f23f52"/>
<rect x="899.46" y="382.2" width="2.9" height="16.2" fill="#f23645"/>
<rect x="904.48" y="386.5" width="0.8" height="50.0" fill="#f23f52"/>
<rect x="903.43" y="398.4" width="2.9" height="24.1" fill="#f23645"/>
<rect x="908.45" y="410.0" width="0.8" height="15.5" fill="#f23f52"/>
<rect x="907.40" y="422.3" width="2.9" height="2.2" fill="#f23645"/>
<rect x="912.46" y="403.4" width="0.72" height="21.1" fill="#55ad97"/>
<rect x="911.37" y="404.0" width="2.9" height="20.0" fill="#1f72d8"/>
<rect x="916.39" y="403.0" width="0.8" height="22.0" fill="#f23f52"/>
<rect x="915.34" y="403.6" width="2.9" height="16.6" fill="#f23645"/>
<rect x="920.40" y="375.9" width="0.72" height="53.6" fill="#55ad97"/>
<rect x="919.31" y="404.6" width="2.9" height="15.6" fill="#1f72d8"/>
<rect x="924.37" y="387.7" width="0.72" height="19.9" fill="#55ad97"/>
<rect x="923.28" y="402.8" width="2.9" height="1.8" fill="#2f8fb8"/>
<rect x="928.30" y="382.2" width="0.8" height="34.7" fill="#f23f52"/>
<rect x="927.25" y="403.0" width="2.9" height="8.5" fill="#f23645"/>
<rect x="932.27" y="411.5" width="0.8" height="32.5" fill="#f23f52"/>
<rect x="931.22" y="412.1" width="2.9" height="1.7" fill="#f23645"/>
<rect x="936.28" y="379.2" width="0.72" height="35.0" fill="#55ad97"/>
<rect x="935.19" y="393.1" width="2.9" height="20.6" fill="#1f72d8"/>
<rect x="940.25" y="375.9" width="0.72" height="23.3" fill="#55ad97"/>
<rect x="939.16" y="387.8" width="2.9" height="5.3" fill="#1f72d8"/>
<rect x="944.18" y="386.0" width="0.8" height="29.5" fill="#f23f52"/>
<rect x="943.13" y="387.5" width="2.9" height="2.8" fill="#f23645"/>
<rect x="948.15" y="387.5" width="0.8" height="41.3" fill="#f23f52"/>
<rect x="947.10" y="390.3" width="2.9" height="38.1" fill="#f23645"/>
<rect x="952.16" y="425.0" width="0.72" height="5.0" fill="#55ad97"/>
<rect x="951.07" y="426.4" width="2.9" height="2.0" fill="#2f8fb8"/>
</g>
<text x="5.9" y="11.8" font-size="8.0" class="k" textLength="221.3" lengthAdjust="spacingAndGlyphs">crispus9 published on TradingView.com, Mar 10, 2025 06:14 UTC+3</text>
<text y="27.4" font-size="7.4" class="k"><tspan x="10.7" textLength="115.3" lengthAdjust="spacingAndGlyphs">Litecoin / U.S. Dollar · 1W · CRYPTO</tspan><tspan x="130.3">O</tspan><tspan fill="#26a69a" x="135.6" textLength="19" lengthAdjust="spacingAndGlyphs">94.56</tspan><tspan x="158.6">H</tspan><tspan fill="#26a69a" x="163.6" textLength="19" lengthAdjust="spacingAndGlyphs">96.40</tspan><tspan x="187">L</tspan><tspan fill="#26a69a" x="190.8" textLength="19" lengthAdjust="spacingAndGlyphs">92.98</tspan><tspan x="213.8">C</tspan><tspan fill="#26a69a" x="218.8" textLength="18.4" lengthAdjust="spacingAndGlyphs">94.74</tspan></text>
<text y="37.3" font-size="7.4" class="k"><tspan x="10.7" textLength="50.8" lengthAdjust="spacingAndGlyphs">EMA (50, close)</tspan><tspan fill="#2962ff" x="66.3" textLength="17.6" lengthAdjust="spacingAndGlyphs">92.71</tspan></text>
<text y="47" font-size="7.4" class="k"><tspan x="10.7" textLength="50.8" lengthAdjust="spacingAndGlyphs">EMA (25, close)</tspan><tspan fill="#f0245f" x="66.3" textLength="20.8" lengthAdjust="spacingAndGlyphs">101.66</tspan></text>
<rect x="976" y="16.6" width="39.6" height="15.6" fill="none" stroke="#f4f5f7" stroke-width="0.8"/>
<text x="981.7" y="27.8" font-size="7.4" class="k" textLength="14.6" lengthAdjust="spacingAndGlyphs">USD</text>
<text x="980.9" y="510.3" font-size="9.8" fill="#1a1e29">25.00</text>
<text x="980.9" y="482.0" font-size="9.8" fill="#1a1e29">50.00</text>
<text x="980.9" y="453.7" font-size="9.8" fill="#1a1e29">75.00</text>
<text x="980.9" y="425.4" font-size="9.8" fill="#1a1e29">100.00</text>
<text x="980.9" y="397.2" font-size="9.8" fill="#1a1e29">125.00</text>
<text x="980.9" y="368.9" font-size="9.8" fill="#1a1e29">150.00</text>
<text x="980.9" y="340.6" font-size="9.8" fill="#1a1e29">175.00</text>
<text x="980.9" y="312.3" font-size="9.8" fill="#1a1e29">200.00</text>
<text x="980.9" y="284.0" font-size="9.8" fill="#1a1e29">225.00</text>
<text x="980.9" y="255.7" font-size="9.8" fill="#1a1e29">250.00</text>
<text x="980.9" y="227.4" font-size="9.8" fill="#1a1e29">275.00</text>
<text x="980.9" y="199.1" font-size="9.8" fill="#1a1e29">300.00</text>
<text x="980.9" y="170.9" font-size="9.8" fill="#1a1e29">325.00</text>
<text x="980.9" y="142.6" font-size="9.8" fill="#1a1e29">350.00</text>
<text x="980.9" y="114.3" font-size="9.8" fill="#1a1e29">375.00</text>
<text x="980.9" y="86.0" font-size="9.8" fill="#1a1e29">400.00</text>
<text x="980.9" y="57.7" font-size="9.8" fill="#1a1e29">425.00</text>
<rect x="975" y="369.3" width="40.2" height="12.7" rx="1" fill="#4caf50"/>
<text x="981.8" y="378.9" font-size="9.6" fill="#ffffff">140.89</text>
<rect x="975" y="399.9" width="40.2" height="12.7" rx="1" fill="#4caf50"/>
<text x="981.8" y="409.5" font-size="9.6" fill="#ffffff">113.86</text>
<text x="87" y="543.3" font-size="9.8" font-weight="bold" fill="#131722" text-anchor="middle" textLength="23.2" lengthAdjust="spacingAndGlyphs">2021</text>
<text x="190" y="543.4" font-size="9.2" fill="#131722" text-anchor="middle">Jul</text>
<text x="293.5" y="543.3" font-size="9.8" font-weight="bold" fill="#131722" text-anchor="middle" textLength="23.2" lengthAdjust="spacingAndGlyphs">2022</text>
<text x="396.5" y="543.4" font-size="9.2" fill="#131722" text-anchor="middle">Jul</text>
<text x="500" y="543.3" font-size="9.8" font-weight="bold" fill="#131722" text-anchor="middle" textLength="23.2" lengthAdjust="spacingAndGlyphs">2023</text>
<text x="603.5" y="543.4" font-size="9.2" fill="#131722" text-anchor="middle">Jul</text>
<text x="707" y="543.3" font-size="9.8" font-weight="bold" fill="#131722" text-anchor="middle" textLength="23.2" lengthAdjust="spacingAndGlyphs">2024</text>
<text x="810" y="543.4" font-size="9.2" fill="#131722" text-anchor="middle">Jul</text>
<text x="917" y="543.3" font-size="9.8" font-weight="bold" fill="#131722" text-anchor="middle" textLength="23.2" lengthAdjust="spacingAndGlyphs">2025</text>
<g fill="#131722"><path d="M5.8 557.7h4.5v5.6h-2.4v-3.4h-2.1z"/><circle cx="11.75" cy="558.55" r="0.85"/><path d="M13.75 557.7h3.05l-2.7 5.6h-3.05z"/></g>
<text x="19.8" y="563.6" font-size="7.8" class="k" textLength="42" lengthAdjust="spacingAndGlyphs">TradingView</text>
</svg></body></html>
